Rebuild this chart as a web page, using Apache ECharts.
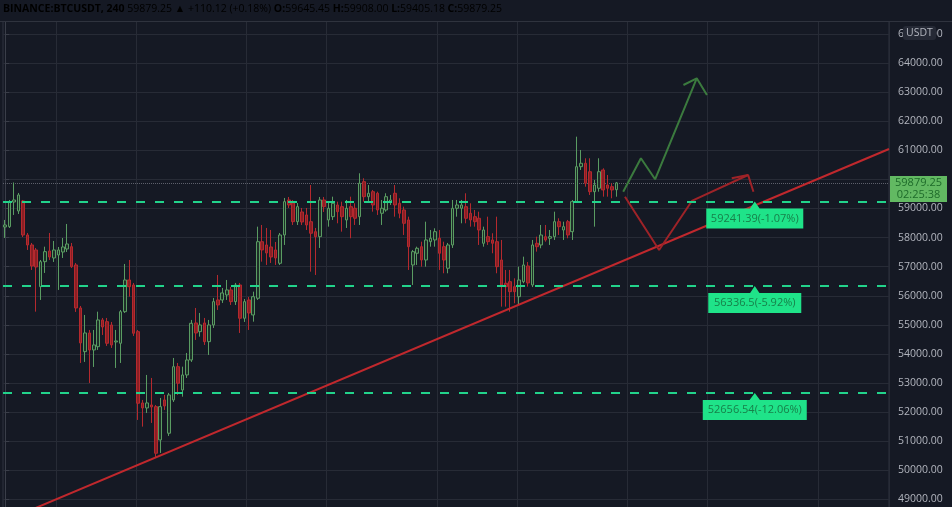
<!DOCTYPE html>
<html><head><meta charset="utf-8">
<script src="https://cdn.jsdelivr.net/npm/echarts@6/dist/echarts.min.js"></script>
<style>html,body{margin:0;padding:0;background:#151924;}#c{width:952px;height:507px;}</style>
</head><body><div id="c"></div>
<script>
// [open, close, low, high]
const candles = [
[58365,58434,57987,58606],[58376,59235,58331,59293],[59224,59293,58778,59894],[58915,59465,58812,59534],
[59259,58090,58020,59293],[58090,57747,57575,58159],[57747,57025,56888,57816],[57575,56991,55455,57644],
[56314,57173,55857,57231],[57173,57517,56785,57688],[57541,57334,57231,58159],[57300,57575,57163,57884],
[57403,57575,56201,57678],[57506,57678,57300,57987],[57609,57781,57506,58468],[57688,57001,56957,57816],
[57060,55582,55445,57128],[55582,54380,53692,55651],[54081,54723,53727,55342],[54723,54139,53005,54826],
[54139,54311,53555,54826],[54252,55170,54139,55455],[55170,54929,54654,55239],[55111,54369,54276,55239],
[54998,54311,54208,55101],[54414,54448,53521,54826],[54369,55455,53692,55513],[55455,56544,55410,57094],
[56544,56314,55970,57231],[56372,54713,54620,56441],[54768,52308,51734,54826],[52318,52146,51504,52421],
[52146,52318,51974,53280],[52249,52180,51631,53177],[52191,50589,50428,52249],[51047,52191,50600,52490],
[52421,52215,52077,52593],[51277,52593,51184,52662],[52421,53565,52352,53864],[53565,52995,52593,53692],
[52765,53280,52534,53565],[53280,53795,53177,54036],[53795,55056,53727,55170],[55067,54723,54483,55582],
[54768,54998,54596,55410],[55067,54424,54311,55239],[54424,54998,53967,55170],[54998,55799,54895,55926],
[55857,55685,55513,56716],[55857,56098,55754,56269],[56029,56201,55857,56544],[56201,55799,55685,56304],
[55799,56372,55685,56441],[56372,55228,54723,56441],[55228,55799,55101,55891],[55857,55410,54826,55960],
[55342,55970,55111,56142],[55915,57860,55857,58376],[57860,57575,57173,58434],[57747,57472,57060,58331],
[57678,57334,57128,58262],[57575,57300,57060,57850],[57118,58090,57060,58159],[58090,59235,57747,59362],
[59293,59121,59018,59396],[59190,58547,58434,59293],[58547,59063,58434,59190],[58881,58537,58434,59018],
[58778,58434,58262,59018],[58547,58149,56829,59808],[58204,58032,56716,58331],[58032,59293,57644,59396],
[59293,59063,58881,59396],[58606,59008,58376,59235],[58719,59179,58606,59406],[59121,58891,58492,59235],
[59063,58719,58204,59235],[58606,59008,58331,59293],[59063,58719,57977,59406],[59008,58664,58434,59179],
[58719,59867,58434,60210],[59922,59406,59235,60039],[59406,59523,59235,59808],[59578,59121,58891,59637],
[59523,58949,58778,59578],[58836,59008,58434,59293],[58949,59406,58891,59523],[59235,59293,59121,59465],
[59523,59121,58719,59808],[59179,58836,58664,59351],[58949,58492,58090,59063],[58606,57688,56888,58719],
[57060,57517,56372,57575],[57462,57633,57060,57688],[57688,57231,57001,57860],[57231,57919,57001,58547],
[57860,57977,57688,58262],[57919,58204,57688,58320],[57977,57462,56888,58262],[57688,57231,56774,57860],
[56946,57747,56774,57816],[57747,59008,57644,59293],[59008,59121,58719,59293],[59008,59121,58492,59293],
[59063,58664,58492,59523],[58836,58606,58376,59179],[58719,58547,58376,58949],[58664,58262,57747,58891],
[57805,58262,57688,58376],[58032,57860,57747,58719],[57919,57805,57462,58149],[57860,57001,56774,58719],
[57231,56372,55627,57919],[56431,56314,55627,56888],[56486,56142,55455,56888],[56314,56142,55743,56602],
[55970,56544,55685,57001],[56486,57060,56431,57345],[57025,56441,56314,57163],[56372,57747,56300,57919],
[57805,57688,57517,58032],[57747,58090,57633,58434],[58032,57919,57860,58434],[57977,58032,57747,58262],
[58032,58547,57919,58891],[58547,58376,58090,58664],[58262,58376,57919,58547],[58547,58090,57977,58606],
[58204,59235,57919,59293],[59235,60437,59190,61468],[60437,60554,60324,61011],[60554,59867,59750,60726],
[60265,59578,59465,60726],[59578,59808,58376,59980],[59695,60265,59578,60726],[60324,59637,59406,60382],
[59808,59695,59406,60152],[59750,59637,59351,59867],[59645.45,59879.25,59405.18,59908]
];
const futureSlots = 61;
const vGridIdx = [12, 30, 55, 73, 98, 116, 141, 159, 184];
const levels = [59241.39, 56336.5, 52656.54];
const levelLabels = ['59241.39(-1.07%)', '56336.5(-5.92%)', '52656.54(-12.06%)'];
const levelBoxW = [97, 93, 104];
const calloutIdx = 169.2;
const trendLine = [[5.5, 48622], [199.5, 61045]];
const greenPath = [[139.5, 59578], [143.5, 60726], [146.7, 60004], [156.1, 63475]];
const greenHead = [[153.1, 63244], [156.1, 63475], [158.4, 62900]];
const redPath = [[139.9, 59406], [147.6, 57575], [155.0, 59259], [167.7, 60152]];
const redHead = [[164.0, 60039], [167.7, 60152], [168.9, 59578]];
const lastPrice = 59879.25;
const countdown = '02:25:38';
const symbolName = 'BINANCE:BTCUSDT, 240';
const changeText = '+110.12 (+0.18%)';
const ohlc = { O: '59645.45', H: '59908.00', L: '59405.18', C: '59879.25' };

const nCat = candles.length + futureSlots;
const categories = Array.from({ length: nCat }, (_, i) => String(i));

const chart = echarts.init(document.getElementById('c'));
const font = '"Open Sans", sans-serif';
const lineSeries = (data, color, z) => ({
  type: 'line', xAxisIndex: 1, yAxisIndex: 0, data, symbol: 'none', silent: true, z, clip: true,
  lineStyle: { color, width: 2 }, animation: false
});

chart.setOption({
  backgroundColor: '#151924',
  animation: false,
  grid: { left: 3, width: 886, top: 4.8, height: 523.8, outerBoundsMode: 'none', containLabel: false,
          show: true, borderColor: '#2f333e', borderWidth: 1 },
  xAxis: [
    { type: 'category', data: categories, boundaryGap: true,
      axisLine: { show: false }, axisTick: { show: false }, axisLabel: { show: false },
      splitLine: { show: true, interval: (idx) => vGridIdx.includes(idx), lineStyle: { color: '#272b36', width: 1 } } },
    { type: 'value', min: -0.5, max: nCat - 0.5, show: false }
  ],
  yAxis: [{
    type: 'value', position: 'right', min: 48000, max: 66000, interval: 1000,
    axisLine: { show: true, lineStyle: { color: '#3a3e49' } },
    axisTick: { show: true, length: 4, lineStyle: { color: '#3a3e49' } },
    axisLabel: { color: '#b2b5be', fontSize: 10.5, fontFamily: font, margin: 9,
      // the price tag on the axis hides the tick label it covers
      formatter: v => (Math.abs(v - lastPrice) < 400 ? '' : v.toFixed(2)) },
    splitLine: { show: true, lineStyle: { color: '#272b36', width: 1 } }
  }],
  series: [
    {
      type: 'candlestick', data: candles, xAxisIndex: 0, barWidth: '70%', z: 3,
      itemStyle: { color: '#1d2e28', color0: '#8a1f24', borderColor: '#5a9c62', borderColor0: '#b5292e', borderWidth: 1 },
      markLine: {
        symbol: 'none', silent: true, animation: false, z: 2,
        data: [{ yAxis: lastPrice }],
        lineStyle: { color: '#5d606b', type: 'dotted', width: 1 },
        label: { show: false }
      }
    },
    lineSeries(trendLine, '#c0282d', 5),
    lineSeries(greenPath, '#3b7a3e', 6),
    lineSeries(greenHead, '#3b7a3e', 6),
    lineSeries(redPath, '#9e2328', 6),
    lineSeries(redHead, '#9e2328', 6),
    {
      type: 'line', xAxisIndex: 1, yAxisIndex: 0, data: [], z: 7, silent: true,
      markLine: {
        symbol: 'none', silent: true, animation: false, z: 7,
        lineStyle: { color: '#22d38b', width: 2, type: [9, 10] },
        label: { show: false },
        data: levels.map(v => ({ yAxis: v }))
      },
      markPoint: {
        silent: true, animation: false, z: 20,
        data: levels.map((v, i) => ({
          coord: [calloutIdx, v],
          symbol: 'path://M0,7L45,7L50,0L55,7L100,7L100,27L0,27Z',
          symbolSize: [levelBoxW[i], 27], symbolKeepAspect: false, symbolOffset: [0, 13.5],
          itemStyle: { color: '#1fe389' },
          label: { show: true, position: 'inside', offset: [0, 3.5], formatter: levelLabels[i],
                   color: '#17804a', fontSize: 11, fontFamily: font }
        })).concat([{
          coord: [nCat - 0.5, lastPrice],
          symbol: 'rect', symbolSize: [57, 26], symbolOffset: [29.5, 6],
          itemStyle: { color: '#62b962' },
          label: { show: true, position: 'inside', offset: [0, 0], formatter: lastPrice.toFixed(2) + '\n' + countdown,
                   color: '#1e6b2a', fontSize: 11, lineHeight: 12.5, fontFamily: font }
        }])
      }
    }
  ],
  graphic: [
    { type: 'rect', z: 100, shape: { x: 0, y: 0, width: 952, height: 21 }, style: { fill: '#151924' } },
    { type: 'line', z: 100, shape: { x1: 0, y1: 21.5, x2: 952, y2: 21.5 }, style: { stroke: '#2f333e', lineWidth: 1 } },
    { type: 'text', z: 101, left: 3, top: 4,
      style: {
        text: '{b|' + symbolName + '} {n|' + lastPrice.toFixed(2) + '} {t|▲} {n|' + changeText + '} ' +
              '{b|O:}{t|' + ohlc.O + '} {b|H:}{t|' + ohlc.H + '} {b|L:}{t|' + ohlc.L + '} {b|C:}{t|' + ohlc.C + '}',
        font: '10.5px ' + font,
        rich: {
          b: { fontWeight: 'bold', color: '#d1d4dc', fontSize: 10.5, fontFamily: font },
          n: { color: '#c5c8d0', fontSize: 10.5, fontFamily: font },
          t: { color: '#2ba58e', fontSize: 10.5, fontFamily: font }
        }
      } },
    { type: 'group', z: 101, left: 903, top: 26, children: [
      { type: 'rect', z: 101, shape: { x: 0, y: 0, width: 33, height: 14, r: 3 }, style: { fill: '#252935' } },
      { type: 'text', z: 102, style: { x: 16.5, y: 7, text: 'USDT', align: 'center', verticalAlign: 'middle',
        fill: '#b2b5be', font: '10.5px ' + font } }
    ] }
  ]
});
</script></body></html>
